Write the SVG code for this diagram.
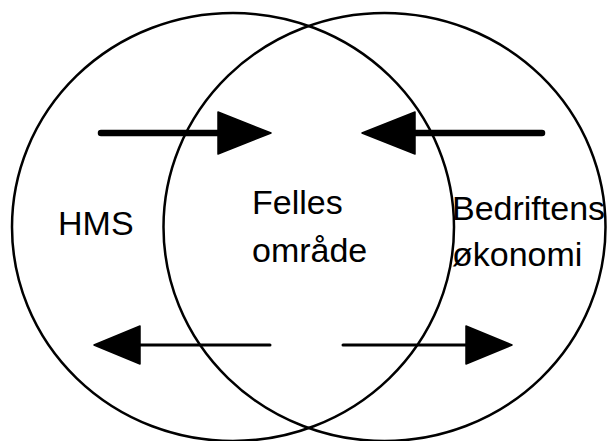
<svg xmlns="http://www.w3.org/2000/svg" width="607" height="441" viewBox="0 0 607 441">
  <style>
    .ring { fill: none; stroke: #000; stroke-width: 2.5; }
    .shaft-thick { stroke: #000; stroke-width: 6.5; stroke-linecap: round; fill: none; }
    .shaft-thin { stroke: #000; stroke-width: 3; stroke-linecap: round; fill: none; }
    .head { fill: #000; stroke: #000; stroke-width: 1.5; stroke-linejoin: round; }
    .label { font-family: "Liberation Sans", Arial, sans-serif; font-size: 34px; fill: #000; }
  </style>
  <rect width="607" height="441" fill="#fff"/>

  <g id="hms">
    <ellipse class="ring" cx="233" cy="227" rx="221" ry="214"/>
    <text class="label" x="58" y="235">HMS</text>
  </g>

  <g id="okonomi">
    <ellipse class="ring" cx="384.5" cy="227" rx="221" ry="214"/>
    <text class="label" x="452" y="220">Bedriftens</text>
    <text class="label" x="452" y="266">økonomi</text>
  </g>

  <g id="felles">
    <text class="label" x="252" y="214">Felles</text>
    <text class="label" x="252" y="262">område</text>
  </g>

  <g id="connectors">
    <!-- inward arrows (top) -->
    <line class="shaft-thick" x1="101" y1="133" x2="220" y2="133"/>
    <polygon class="head" points="218,112 271,133 218,154"/>
    <line class="shaft-thick" x1="542" y1="133" x2="412" y2="133"/>
    <polygon class="head" points="415,112 362,133 415,154"/>
    <!-- outward arrows (bottom) -->
    <line class="shaft-thin" x1="270" y1="345" x2="140" y2="345"/>
    <polygon class="head" points="140,326 94,345 140,364"/>
    <line class="shaft-thin" x1="343" y1="345" x2="466" y2="345"/>
    <polygon class="head" points="466,326 512,345 466,364"/>
  </g>
</svg>
